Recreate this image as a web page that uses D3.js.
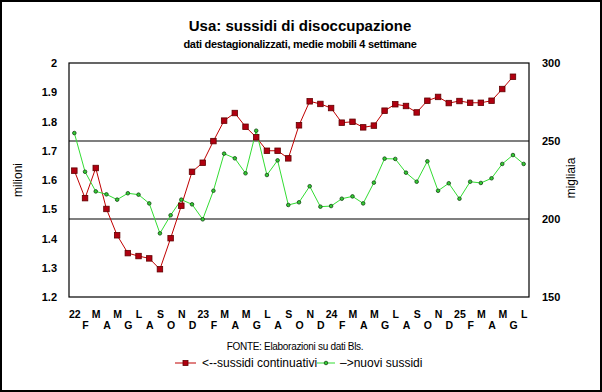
<!DOCTYPE html>
<html><head><meta charset="utf-8">
<script src="https://cdn.jsdelivr.net/npm/d3@7"></script>
<style>
body{margin:0;background:#fff;}
svg{font-family:"Liberation Sans",Arial,sans-serif;}
</style></head>
<body><svg id="c" width="602" height="392"></svg>
<script>
const monthLabels = ["22","F","M","A","M","G","L","A","S","O","N","D",
  "23","F","M","A","M","G","L","A","S","O","N","D",
  "24","F","M","A","M","G","L","A","S","O","N","D",
  "25","F","M","A","M","G","L"];
const continuativi = [1.632,1.538,1.641,1.501,1.411,1.350,1.340,1.332,1.295,1.401,1.512,1.628,1.659,1.733,
  1.803,1.829,1.782,1.746,1.700,1.700,1.674,1.787,1.869,1.860,1.846,1.796,1.799,1.780,1.786,
  1.837,1.859,1.853,1.831,1.871,1.884,1.863,1.870,1.864,1.864,1.871,1.911,1.953];
const nuovi = [255.1,230.3,217.7,215.8,212.4,216.5,215.6,210.0,190.8,202.4,212.4,209.4,199.8,218.1,
  241.9,238.9,229.3,256.6,228.2,237.6,209.0,210.7,221.0,207.9,208.3,213.0,214.5,210.0,223.3,
  238.7,238.5,229.7,223.9,237.0,218.1,222.9,213.0,223.9,223.1,226.1,235.3,241.0,235.3];
const leftTicks = [1.2,1.3,1.4,1.5,1.6,1.7,1.8,1.9,2];
const rightTicks = [150,200,250,300];
const gridValues = [200,250];

const svg = d3.select("#c");
const L=69,R=529,T=63,B=297;

svg.append("rect").attr("x",1).attr("y",1).attr("width",600).attr("height",390)
  .attr("fill","#fff").attr("stroke","#000").attr("stroke-width",2);

const x = d3.scalePoint().domain(d3.range(monthLabels.length)).range([L,R]).padding(0.5);
const yL = d3.scaleLinear().domain([1.2,2]).range([B,T]);
const yR = d3.scaleLinear().domain([150,300]).range([B,T]);

// titles
svg.append("text").attr("x",300).attr("y",31).attr("text-anchor","middle")
  .attr("font-size",15).attr("font-weight","bold").text("Usa: sussidi di disoccupazione");
svg.append("text").attr("x",300).attr("y",48).attr("text-anchor","middle")
  .attr("font-size",11).attr("font-weight","bold").attr("letter-spacing",-0.3)
  .text("dati destagionalizzati, medie mobili 4 settimane");

// gridlines
svg.append("g").selectAll("line").data(gridValues).join("line")
  .attr("x1",L).attr("x2",R).attr("y1",d=>yR(d)).attr("y2",d=>yR(d))
  .attr("stroke","#000").attr("stroke-width",1.2);

// frame
svg.append("rect").attr("x",L).attr("y",T).attr("width",R-L).attr("height",B-T)
  .attr("fill","none").attr("stroke","#000").attr("stroke-width",1.2);

// axes
const gl = svg.append("g").attr("transform",`translate(${L},0)`)
  .call(d3.axisLeft(yL).tickValues(leftTicks).tickSize(0).tickPadding(12).tickFormat(d3.format("~g")));
const gr = svg.append("g").attr("transform",`translate(${R},0)`)
  .call(d3.axisRight(yR).tickValues(rightTicks).tickSize(0).tickPadding(13));
const gx = svg.append("g").attr("transform",`translate(0,${B})`)
  .call(d3.axisBottom(x).tickSize(0).tickPadding(14).tickFormat(i=>monthLabels[i]));
[gl,gr,gx].forEach(g=>{
  g.select(".domain").remove();
  g.selectAll("text").attr("font-size",11).attr("font-weight","bold")
    .attr("font-family","Liberation Sans,Arial,sans-serif").attr("fill","#000");
});
gx.selectAll(".tick text").attr("dy",(d,i)=> i%2 ? "1.75em" : "0.71em").attr("font-size",10.5);

svg.append("text").attr("transform","translate(22,180) rotate(-90)").attr("text-anchor","middle")
  .attr("font-size",12).text("milioni");
svg.append("text").attr("transform","translate(575,178) rotate(-90)").attr("text-anchor","middle")
  .attr("font-size",12).text("migliaia");

// lines
const lineL = d3.line().x((d,i)=>x(i)).y(d=>yL(d));
const lineR = d3.line().x((d,i)=>x(i)).y(d=>yR(d));
svg.append("path").datum(continuativi).attr("d",lineL).attr("fill","none").attr("stroke","#c00000").attr("stroke-width",1);
svg.append("path").datum(nuovi).attr("d",lineR).attr("fill","none").attr("stroke","#33dd33").attr("stroke-width",1);
svg.append("g").selectAll("rect").data(continuativi).join("rect")
  .attr("x",(d,i)=>x(i)-2.75).attr("y",d=>yL(d)-2.75).attr("width",5.5).attr("height",5.5)
  .attr("fill","#b00010").attr("stroke","#600000").attr("stroke-width",0.8);
svg.append("g").selectAll("circle").data(nuovi).join("circle")
  .attr("cx",(d,i)=>x(i)).attr("cy",d=>yR(d)).attr("r",1.8)
  .attr("fill","#33cc33").attr("stroke","#114411").attr("stroke-width",0.8);

// source
svg.append("text").attr("x",295).attr("y",350).attr("text-anchor","middle")
  .attr("font-size",10).attr("letter-spacing",-0.3).text("FONTE: Elaborazioni su dati Bls.");

// legend
const ly=363;
svg.append("line").attr("x1",175).attr("x2",196).attr("y1",ly).attr("y2",ly).attr("stroke","#c00000");
svg.append("rect").attr("x",183).attr("y",ly-2.5).attr("width",5).attr("height",5).attr("fill","#b00010").attr("stroke","#600000").attr("stroke-width",0.8);
svg.append("text").attr("x",202).attr("y",ly+4).attr("font-size",12).text("<--sussidi continuativi");
svg.append("line").attr("x1",317).attr("x2",335).attr("y1",ly).attr("y2",ly).attr("stroke","#33dd33");
svg.append("circle").attr("cx",326).attr("cy",ly).attr("r",1.8).attr("fill","#33cc33").attr("stroke","#114411").attr("stroke-width",0.8);
svg.append("text").attr("x",340).attr("y",ly+4).attr("font-size",12).text("–>nuovi sussidi");
</script></body></html>
